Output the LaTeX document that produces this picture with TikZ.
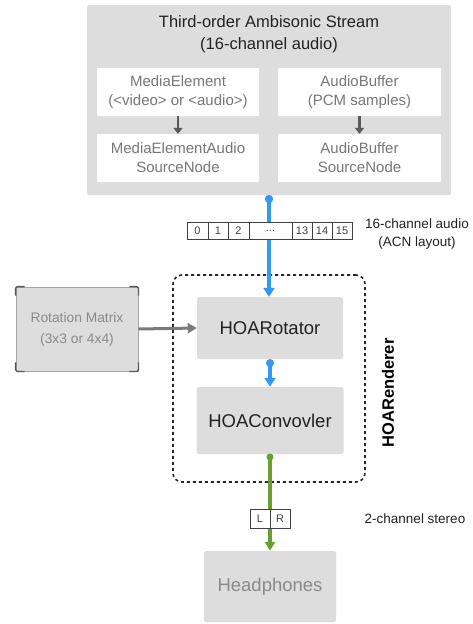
\documentclass[tikz,border=0pt]{standalone}
\usepackage{fontspec}
\setmainfont{Liberation Sans}
\usetikzlibrary{arrows.meta,calc}
\definecolor{boxgray}{HTML}{DDDDDD}
\definecolor{txtgray}{HTML}{777777}
\definecolor{lightgray2}{HTML}{8A8A8A}
\definecolor{bluec}{HTML}{3399F3}
\definecolor{greenc}{HTML}{67A02E}
\definecolor{darkarrow}{HTML}{5A5A5A}
\definecolor{txtdark}{HTML}{222222}
\tikzset{
  graybox/.style={fill=boxgray, draw=none, rounded corners=1.5pt, inner sep=0pt, align=center},
  whitebox/.style={fill=white, draw=none, rounded corners=1pt, inner sep=0pt, align=center, text=txtgray, font=\fontsize{15}{19}\selectfont},
  cell/.style={draw=black!75, fill=white, line width=0.9pt, inner sep=0pt, minimum height=17pt, font=\fontsize{11}{12}\selectfont, text=black!75},
  smallarrow/.style={draw=darkarrow, line width=2.5pt, -{Triangle[length=6pt,width=9pt]}},
  bluearrow/.style={draw=bluec, line width=4pt, -{Triangle[length=9pt,width=11pt]}},
  greenarrow/.style={draw=greenc, line width=3.5pt, -{Triangle[length=9pt,width=10pt]}},
  grayarrow/.style={draw=darkarrow!80, line width=3pt, -{Triangle[length=9pt,width=10pt]}},
  sidelabel/.style={font=\fontsize{13.5}{18}\selectfont, text=txtdark, align=center},
}
\begin{document}
\begin{tikzpicture}[x=1pt,y=-1pt]
\useasboundingbox (0,0) rectangle (473,624);
\fill[white] (0,0) rectangle (473,624);

% outer stream box
\node[graybox, minimum width=364pt, minimum height=190pt] (stream) at (269,100) {};
\node[font=\fontsize{16.5}{22.5}\selectfont, text=txtdark, align=center] (title) at (269,34) {Third-order Ambisonic Stream\\(16-channel audio)};
\node[whitebox, minimum width=162pt, minimum height=48pt] (me) at (178,92) {MediaElement\\(<video> or <audio>)};
\node[whitebox, minimum width=162pt, minimum height=48pt] (mes) at (178,158) {MediaElementAudio\\SourceNode};
\node[whitebox, minimum width=163pt, minimum height=48pt] (ab) at (359.5,92) {AudioBuffer\\(PCM samples)};
\node[whitebox, minimum width=163pt, minimum height=48pt] (abs) at (359.5,158) {AudioBuffer\\SourceNode};
\draw[smallarrow] (me.south) -- (mes.north);
\draw[smallarrow] (ab.south) -- (abs.north);

% dashed renderer
\node[draw=black!85, dash pattern=on 3pt off 3pt, line width=1.6pt, rounded corners=9pt, minimum width=192pt, minimum height=207pt, inner sep=0pt] (renderer) at (269,378.5) {};
\node[rotate=90, font=\bfseries\fontsize{16.5}{20}\selectfont, text=black] (rlabel) at (388,393) {HOARenderer};

% HOA boxes
\node[graybox, minimum width=146pt, minimum height=62pt, font=\fontsize{18.5}{22}\selectfont, text=txtdark] (rot) at (270,328) {HOARotator};
\node[graybox, minimum width=147pt, minimum height=67pt, font=\fontsize{18.5}{22}\selectfont, text=txtdark] (conv) at (270,420.5) {HOAConvovler};

% blue main connector
\coordinate (bstart) at (269,199);
\draw[bluearrow] (bstart) -- (rot.north -| bstart);
\fill[bluec] (bstart) circle (4.2pt);

% channel strip
\node[cell, minimum width=21pt] (c0) at (197.5,230.5) {0};
\node[cell, minimum width=20pt] (c1) at (218,230.5) {1};
\node[cell, minimum width=21pt] (c2) at (238.5,230.5) {2};
\node[cell, minimum width=43pt] (cd) at (270.5,230.5) {...};
\node[cell, minimum width=20pt] (c13) at (302,230.5) {13};
\node[cell, minimum width=20pt] (c14) at (322,230.5) {14};
\node[cell, minimum width=20pt] (c15) at (342,230.5) {15};
\node[sidelabel] (acn) at (417,234) {16-channel audio\\(ACN layout)};

% rotator to convolver
\coordinate (rbot) at (270,363);
\draw[bluearrow] (rbot) -- (conv.north);
\fill[bluec] (rbot) circle (4pt);

% rotation matrix
\node[fill=boxgray, draw=black!35, line width=0.8pt, minimum width=122pt, minimum height=84pt, inner sep=0pt, align=center, text=lightgray2, font=\fontsize{13.8}{21}\selectfont] (rm) at (77,329) {Rotation Matrix\\(3x3 or 4x4)};
\foreach \c/\dx/\dy in {north west/1/1, north east/-1/1, south west/1/-1, south east/-1/-1}{
  \draw[black!65, line width=1.3pt, rounded corners=1.5pt] ($(rm.\c)+(\dx*9,0)$) -- (rm.\c) -- ($(rm.\c)+(0,\dy*9)$);
}
\draw[grayarrow] (rm.east) -- (rot.west);

% green output
\coordinate (gstart) at (270,457);
\node[graybox, minimum width=132pt, minimum height=71pt, font=\fontsize{18.5}{22}\selectfont, text=lightgray2] (hp) at (270,586.5) {Headphones};
\draw[greenarrow] (gstart) -- (hp.north);
\fill[greenc] (gstart) circle (3.5pt);
\node[cell, minimum width=20pt, minimum height=19pt] (cl) at (260,518.5) {L};
\node[cell, minimum width=20pt, minimum height=19pt] (cr) at (280,518.5) {R};
\node[sidelabel] (stereo) at (415,519) {2-channel stereo};
\end{tikzpicture}
\end{document}
